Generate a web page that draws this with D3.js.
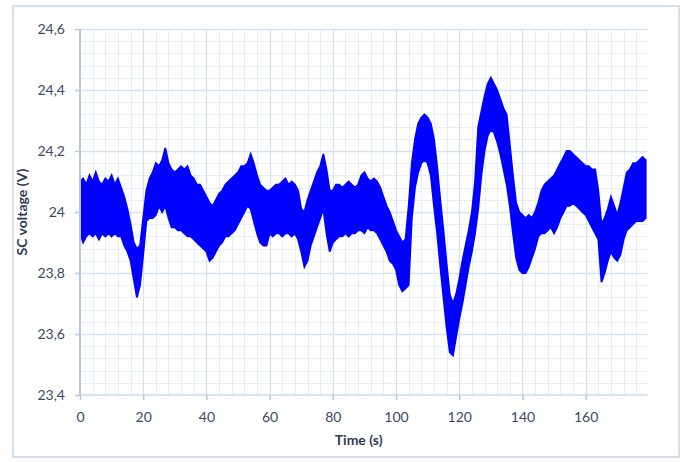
<!DOCTYPE html>
<html>
<head>
<meta charset="utf-8">
<script src="https://cdn.jsdelivr.net/npm/d3@7"></script>
<style>
  html, body { margin: 0; padding: 0; background: #ffffff; }
  svg { display: block; }
  text { font-family: Lato, "Open Sans", sans-serif; }
</style>
</head>
<body>
<svg id="chart" width="686" height="462"></svg>
<script>
// ---- data ----
const xTicks = [0, 20, 40, 60, 80, 100, 120, 140, 160];
const yTicks = [23.4, 23.6, 23.8, 24.0, 24.2, 24.4, 24.6];
const yTickLabels = ["23,4", "23,6", "23,8", "24", "24,2", "24,4", "24,6"];
const xTitle = "Time (s)";
const yTitle = "SC voltage (V)";

// upper envelope of the noisy SC voltage band, one value per second (t = 0..179)
const upper = [
  24.10,24.11,24.09,24.12,24.10,24.13,24.10,24.09,24.11,24.10,
  24.12,24.09,24.11,24.08,24.05,24.01,23.96,23.90,23.88,23.89,
  23.98,24.07,24.11,24.13,24.16,24.15,24.17,24.21,24.16,24.14,
  24.13,24.14,24.15,24.14,24.15,24.12,24.11,24.09,24.09,24.07,
  24.05,24.03,24.02,24.04,24.06,24.07,24.09,24.10,24.11,24.12,
  24.13,24.15,24.15,24.16,24.19,24.16,24.12,24.09,24.08,24.07,
  24.07,24.08,24.09,24.09,24.10,24.11,24.09,24.10,24.09,24.07,
  24.01,24.00,24.04,24.07,24.10,24.13,24.15,24.19,24.14,24.07,
  24.07,24.09,24.09,24.08,24.09,24.10,24.09,24.08,24.09,24.12,
  24.13,24.11,24.10,24.11,24.10,24.08,24.05,24.02,24.00,23.97,
  23.94,23.92,23.90,23.91,24.02,24.16,24.24,24.29,24.31,24.32,
  24.31,24.29,24.24,24.15,24.04,23.94,23.83,23.73,23.70,23.73,
  23.78,23.84,23.89,23.94,24.00,24.10,24.28,24.33,24.38,24.42,
  24.44,24.42,24.40,24.37,24.34,24.32,24.22,24.12,24.03,24.00,
  23.99,23.98,23.99,23.98,24.00,24.03,24.07,24.09,24.10,24.11,
  24.12,24.14,24.16,24.18,24.20,24.20,24.19,24.18,24.17,24.16,
  24.15,24.15,24.14,24.14,24.07,23.96,23.98,24.01,24.05,24.02,
  23.99,24.03,24.08,24.13,24.14,24.16,24.16,24.17,24.18,24.17
];
// lower envelope, same time base
const lower = [
  23.93,23.90,23.92,23.93,23.92,23.93,23.91,23.93,23.92,23.93,
  23.92,23.93,23.92,23.92,23.89,23.87,23.84,23.78,23.72,23.76,
  23.86,23.97,23.98,23.98,23.99,24.02,24.00,24.02,23.98,23.95,
  23.95,23.94,23.94,23.93,23.92,23.92,23.91,23.90,23.89,23.88,
  23.87,23.84,23.85,23.87,23.89,23.90,23.92,23.92,23.93,23.94,
  23.96,23.98,24.00,24.02,24.01,23.97,23.93,23.90,23.89,23.89,
  23.93,23.92,23.93,23.93,23.92,23.93,23.93,23.92,23.93,23.91,
  23.87,23.82,23.84,23.89,23.92,23.95,23.98,24.01,23.93,23.87,
  23.90,23.91,23.92,23.92,23.93,23.92,23.93,23.93,23.94,23.94,
  23.93,23.95,23.94,23.94,23.93,23.91,23.89,23.87,23.84,23.83,
  23.81,23.76,23.74,23.75,23.76,23.98,24.08,24.13,24.16,24.17,
  24.16,24.12,24.02,23.93,23.82,23.72,23.62,23.54,23.53,23.59,
  23.65,23.70,23.76,23.82,23.87,23.93,24.01,24.12,24.20,24.25,
  24.27,24.26,24.23,24.19,24.14,24.09,24.02,23.93,23.85,23.81,
  23.80,23.80,23.82,23.85,23.88,23.92,23.93,23.93,23.94,23.95,
  23.93,23.95,23.98,24.00,24.02,24.02,24.03,24.02,24.01,24.00,
  23.99,23.97,23.95,23.93,23.91,23.77,23.80,23.84,23.87,23.85,
  23.84,23.86,23.91,23.94,23.95,23.96,23.97,23.97,23.97,23.98
];
const time = d3.range(upper.length); // seconds

// ---- layout ----
const svg = d3.select("#chart");
const plot = { left: 80, right: 647.3, top: 29, bottom: 395 };

const x = d3.scaleLinear().domain([0, 179.5]).range([plot.left, plot.right]);
const y = d3.scaleLinear().domain([23.4, 24.6]).range([plot.bottom, plot.top]);

const defs = svg.append("defs");
defs.append("filter").attr("id", "soft")
  .append("feGaussianBlur").attr("stdDeviation", 0.4);

// outer frame
svg.append("rect")
  .attr("x", 13).attr("y", 6).attr("width", 666).attr("height", 451)
  .attr("fill", "#ffffff").attr("stroke", "#d3e0f1").attr("stroke-width", 2);

// minor grid
const minorX = d3.range(0, 179.5, 4).filter(v => v % 20 !== 0);
const minorY = d3.range(0, 31).map(i => 23.4 + i * 0.04).filter((v, i) => i % 5 !== 0);
const grid = svg.append("g");
grid.selectAll(".mx").data(minorX).join("line")
  .attr("x1", d => Math.round(x(d)) + 0.5).attr("x2", d => Math.round(x(d)) + 0.5)
  .attr("y1", plot.top).attr("y2", plot.bottom)
  .attr("stroke", "#e8eef8").attr("stroke-width", 1);
grid.selectAll(".my").data(minorY).join("line")
  .attr("x1", plot.left).attr("x2", plot.right)
  .attr("y1", d => Math.round(y(d)) + 0.5).attr("y2", d => Math.round(y(d)) + 0.5)
  .attr("stroke", "#e8eef8").attr("stroke-width", 1);
// major grid
grid.selectAll(".Mx").data(xTicks.filter(d => d > 0)).join("line")
  .attr("x1", d => Math.round(x(d)) + 0.5).attr("x2", d => Math.round(x(d)) + 0.5)
  .attr("y1", plot.top).attr("y2", plot.bottom)
  .attr("stroke", "#d5e1f1").attr("stroke-width", 1.3);
grid.selectAll(".My").data(yTicks.filter(d => d > 23.4)).join("line")
  .attr("x1", plot.left).attr("x2", plot.right)
  .attr("y1", d => Math.round(y(d)) + 0.5).attr("y2", d => Math.round(y(d)) + 0.5)
  .attr("stroke", "#d5e1f1").attr("stroke-width", 1.3);

// data band
const area = d3.area()
  .x((d, i) => x(time[i]))
  .y0((d, i) => y(lower[i]))
  .y1((d, i) => y(upper[i]))
  .curve(d3.curveLinear);
svg.append("path")
  .datum(upper)
  .attr("d", area)
  .attr("fill", "#0000ff")
  .attr("stroke", "#0000ff")
  .attr("stroke-width", 1.8)
  .attr("stroke-linejoin", "miter")
  .attr("filter", "url(#soft)");

// axes
const yAxis = svg.append("g").attr("transform", `translate(${plot.left},0)`)
  .call(d3.axisLeft(y).tickValues(yTicks).tickSize(5).tickPadding(10)
    .tickFormat((d, i) => yTickLabels[i]));
const xAxis = svg.append("g").attr("transform", `translate(0,${plot.bottom})`)
  .call(d3.axisBottom(x).tickValues(xTicks).tickSize(5).tickPadding(12)
    .tickSizeOuter(0).tickFormat(d3.format("d")));
yAxis.select(".domain").attr("stroke", "#b4c8e4").attr("stroke-width", 2).attr("d", `M0,${plot.top}V${plot.bottom}`);
xAxis.select(".domain").attr("stroke", "#c8d7ec").attr("stroke-width", 1.5).attr("d", `M${plot.left},0H${plot.right}`);
svg.selectAll(".tick line").attr("stroke", "#b4c8e4").attr("stroke-width", 1.5);
svg.selectAll(".tick text")
  .attr("fill", "#3c4a66")
  .style("font-size", "14px")
  .style("font-family", "Lato, 'Open Sans', sans-serif");

// titles
svg.append("text")
  .attr("x", (plot.left + plot.right) / 2 - 5).attr("y", 445)
  .attr("text-anchor", "middle")
  .attr("fill", "#2e3a57")
  .style("font-size", "14px").style("font-weight", "bold")
  .text(xTitle);
svg.append("text")
  .attr("transform", `translate(27,${(plot.top + plot.bottom) / 2}) rotate(-90)`)
  .attr("text-anchor", "middle")
  .attr("fill", "#2e3a57")
  .style("font-size", "14px").style("font-weight", "bold")
  .text(yTitle);
</script>
</body>
</html>
